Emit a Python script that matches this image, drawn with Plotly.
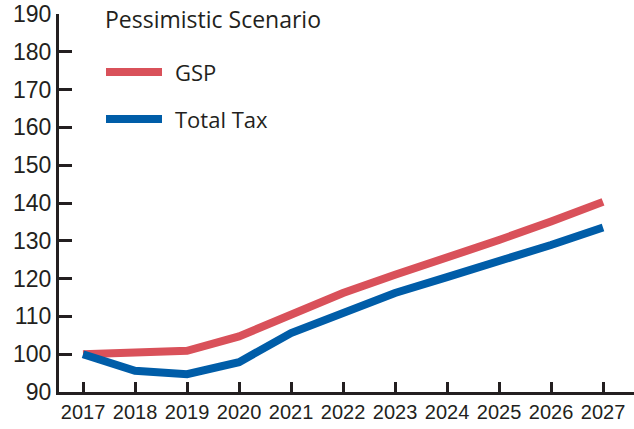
import plotly.graph_objects as go

years = [2017, 2018, 2019, 2020, 2021, 2022, 2023, 2024, 2025, 2026, 2027]
gsp = [100.0, 100.5, 100.9, 104.7, 110.6, 116.2, 121.0, 125.4, 130.2, 135.1, 140.3]
total_tax = [100.0, 95.6, 94.7, 97.9, 105.6, 111.0, 116.2, 120.4, 124.5, 128.9, 133.5]
y_ticks = [90, 100, 110, 120, 130, 140, 150, 160, 170, 180, 190]

RED = "#d9515a"
BLUE = "#005da8"
INK = "#231f20"
NARROW = "Liberation Sans Narrow, Arial Narrow, sans-serif"
SANS = "Open Sans, Noto Sans, sans-serif"

W, H = 634, 429
L, R, T, B = 59, 0, 14, 37
PW, PH = W - L - R, H - T - B


def px(x):
    return (x - L) / PW


def py(y):
    return (H - B - y) / PH


fig = go.Figure()
fig.add_trace(go.Scatter(x=years, y=gsp, mode="lines", name="GSP",
                         line=dict(color=RED, width=8), showlegend=False))
fig.add_trace(go.Scatter(x=years, y=total_tax, mode="lines", name="Total Tax",
                         line=dict(color=BLUE, width=8), showlegend=False))

# hand-placed legend with long line samples
for name, color, yc in [("GSP", RED, 72), ("Total Tax", BLUE, 119)]:
    fig.add_shape(type="line", xref="paper", yref="paper",
                  x0=px(106), x1=px(162), y0=py(yc), y1=py(yc),
                  line=dict(color=color, width=8))
    fig.add_annotation(xref="paper", yref="paper", x=px(173), y=py(yc),
                       xanchor="left", yanchor="middle", showarrow=False,
                       text=name, font=dict(family=SANS, size=22, color=INK))

fig.add_annotation(xref="paper", yref="paper", x=px(103), y=py(19),
                   xanchor="left", yanchor="middle", showarrow=False,
                   text="Pessimistic Scenario",
                   font=dict(family=SANS, size=23, color=INK))

fig.update_layout(
    width=W, height=H,
    margin=dict(l=L, r=R, t=T, b=B),
    paper_bgcolor="white", plot_bgcolor="white",
    xaxis=dict(range=[2016.538, 2027.596], tickvals=years,
               ticktext=[str(y) for y in years],
               showgrid=False, zeroline=False, showline=True,
               linecolor=INK, linewidth=3,
               ticks="inside", ticklen=10, tickwidth=3, tickcolor=INK,
               tickfont=dict(family=NARROW, size=20, color=INK)),
    yaxis=dict(range=[90, 190], tickvals=y_ticks,
               showgrid=False, zeroline=False, showline=True,
               linecolor=INK, linewidth=3,
               ticks="inside", ticklen=13, tickwidth=3, tickcolor=INK,
               tickfont=dict(family=NARROW, size=23, color=INK)),
)

fig.write_html("out.html")
